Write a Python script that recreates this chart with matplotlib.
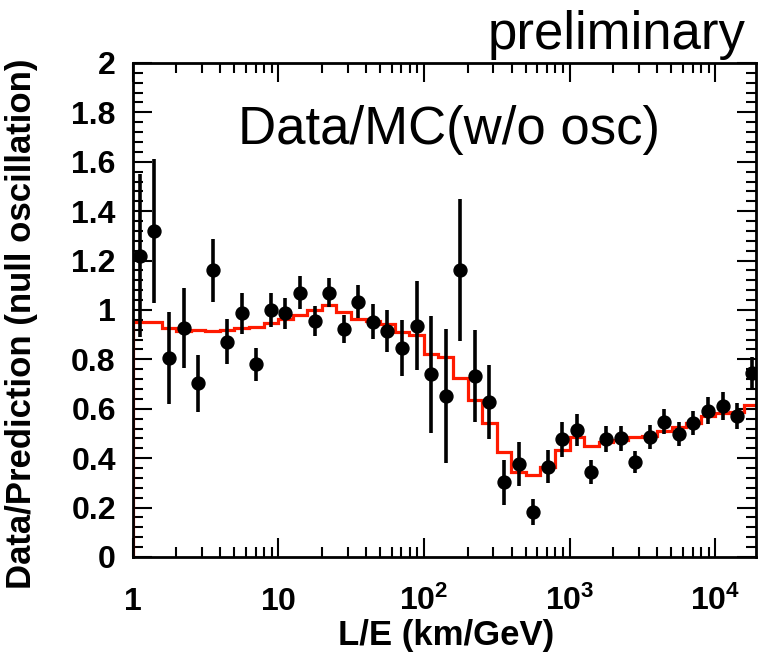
import matplotlib
matplotlib.use("Agg")
import matplotlib.pyplot as plt
from matplotlib.ticker import FixedLocator, MultipleLocator, FuncFormatter, LogLocator
import numpy as np

plt.rcParams['font.family'] = ['Liberation Sans', 'DejaVu Sans']
plt.rcParams['mathtext.fontset'] = 'custom'
plt.rcParams['mathtext.rm'] = 'Liberation Sans'
plt.rcParams['mathtext.bf'] = 'Liberation Sans:bold'

# log10(L/E) bin edges
log_edges = [0.0, 0.1, 0.2, 0.3, 0.4, 0.5, 0.6, 0.7, 0.8, 0.9,
             1.0, 1.1, 1.2, 1.3, 1.4, 1.5, 1.6, 1.7, 1.8, 1.9,
             2.0, 2.1, 2.2, 2.3, 2.4, 2.5, 2.6, 2.7, 2.8, 2.9,
             3.0, 3.1, 3.2, 3.3, 3.4, 3.5, 3.6, 3.7, 3.8, 3.9,
             4.0, 4.1, 4.2, 4.3]

# L/E of data points (km/GeV)
le_points = [1.12, 1.41, 1.78, 2.24, 2.82, 3.55, 4.47, 5.62, 7.08, 8.91,
             11.2, 14.1, 17.8, 22.4, 28.2, 35.5, 44.7, 56.2, 70.8, 89.1,
             112, 141, 178, 224, 282, 355, 447, 562, 708, 891,
             1122, 1413, 1778, 2239, 2818, 3548, 4467, 5623, 7079, 8913,
             11220, 14125, 17783]

ratio = [1.22, 1.32, 0.805, 0.928, 0.703, 1.16, 0.872, 0.986, 0.781, 1.0,
         0.986, 1.07, 0.955, 1.07, 0.923, 1.034, 0.953, 0.915, 0.845, 0.937,
         0.74, 0.652, 1.162, 0.733, 0.626, 0.302, 0.376, 0.182, 0.366, 0.476,
         0.514, 0.345, 0.476, 0.48, 0.383, 0.485, 0.548, 0.498, 0.541, 0.592,
         0.611, 0.572, 0.746]

ratio_err = [0.33, 0.29, 0.185, 0.162, 0.115, 0.126, 0.09, 0.084, 0.067, 0.067,
             0.064, 0.067, 0.06, 0.058, 0.058, 0.067, 0.072, 0.085, 0.113, 0.179,
             0.237, 0.27, 0.288, 0.186, 0.15, 0.091, 0.088, 0.051, 0.067, 0.07,
             0.064, 0.049, 0.053, 0.05, 0.044, 0.049, 0.049, 0.048, 0.049, 0.054,
             0.056, 0.052, 0.065]

# best-fit oscillation expectation / null oscillation
best_fit = [0.95, 0.95, 0.928, 0.915, 0.919, 0.915, 0.919, 0.926, 0.933, 0.949,
            0.963, 0.98, 1.0, 1.02, 0.99, 0.963, 0.956, 0.944, 0.912, 0.90,
            0.822, 0.809, 0.723, 0.636, 0.541, 0.426, 0.345, 0.33, 0.364, 0.433,
            0.485, 0.451, 0.467, 0.474, 0.487, 0.49, 0.511, 0.528, 0.541, 0.571,
            0.584, 0.588, 0.615]

x_major = [1, 10, 100, 1000, 10000]
x_min = 1.0
x_max = 10 ** 4.28

fig = plt.figure(figsize=(7.66, 6.56), dpi=100)
ax = fig.add_axes([0.173, 0.151, 0.814, 0.753])

edges = [10 ** e for e in log_edges]
ax.stairs(best_fit, edges, baseline=0, color='#ff1a00', lw=2.3, zorder=2)

ax.errorbar(le_points, ratio, yerr=ratio_err, fmt='o', color='black',
            ms=9.3, elinewidth=2.6, capsize=0, zorder=3)

ax.set_xscale('log')
ax.set_xlim(x_min, x_max)
ax.set_ylim(0, 2)

ax.xaxis.set_major_locator(FixedLocator(x_major))
ax.xaxis.set_minor_locator(LogLocator(base=10, subs=[2, 3, 4, 5, 6, 7, 8, 9], numticks=20))
ax.yaxis.set_major_locator(MultipleLocator(0.2))
ax.yaxis.set_minor_locator(MultipleLocator(0.04))
ax.yaxis.set_major_formatter(FuncFormatter(lambda v, p: f"{v:g}"))


def xfmt(v, p):
    e = int(round(np.log10(v)))
    if e == 0:
        return r'$\mathbf{1}$'
    if e == 1:
        return r'$\mathbf{10}$'
    return r'$\mathbf{10^{%d}}$' % e


ax.xaxis.set_major_formatter(FuncFormatter(xfmt))
ax.xaxis.set_minor_formatter(FuncFormatter(lambda v, p: ''))

ax.tick_params(axis='both', which='major', direction='in', length=14, width=1.5,
               labelsize=23, top=True, right=True)
ax.tick_params(axis='both', which='minor', direction='in', length=7, width=1.5,
               top=True, right=True)
ax.tick_params(axis='x', which='major', pad=38)
ax.tick_params(axis='y', which='major', pad=12)

for sp in ax.spines.values():
    sp.set_linewidth(2)

ax.set_xlabel('L/E (km/GeV)', fontsize=25, fontweight='bold')
ax.xaxis.set_label_coords(0.503, -0.125)
ax.set_ylabel('Data/Prediction (null oscillation)', fontsize=25,
              fontweight='bold')
ax.yaxis.set_label_coords(-0.152, 0.472)

fig.text(0.973, 0.947, 'preliminary', fontsize=38, ha='right', va='center')
ax.text(0.508, 0.864, 'Data/MC(w/o osc)', transform=ax.transAxes,
        fontsize=38, ha='center', va='center')

fig.canvas.draw()
for lab in ax.get_yticklabels():
    lab.set_fontweight('bold')
for lab in ax.get_xticklabels():
    lab.set_va('baseline')

fig.savefig('out.png', dpi=100)
